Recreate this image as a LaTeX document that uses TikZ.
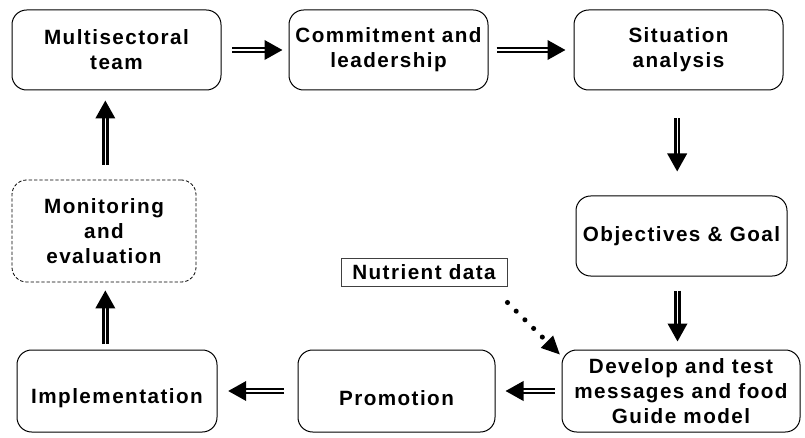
\documentclass[tikz,border=0pt]{standalone}
\usepackage{fontspec}
\setmainfont{Liberation Sans}[LetterSpace=7]
\usetikzlibrary{arrows.meta,positioning}

\tikzset{
	stagebox/.style = {draw, line width=0.75pt, rounded corners=11pt, align=center,
		font=\fontsize{15.5}{18.75}\selectfont\bfseries, inner sep=0pt},
	sunk/.style = {execute at begin node={\rule{0pt}{#1}}},
	databox/.style = {draw=black!75, line width=0.75pt, align=center,
		font=\fontsize{15.5}{18.75}\selectfont\bfseries, inner sep=0pt},
	flowarrow/.style = {draw, line width=2pt, double, double distance=0.8pt,
		-{Triangle[length=13.5pt,width=14.5pt]}},
	dotarrow/.style = {line width=3.8pt, line cap=round, dash pattern=on 0pt off 9.2pt,
		-{Triangle[length=14pt,width=12pt]}}
}

\begin{document}
\begin{tikzpicture}[x=0.75pt, y=-0.75pt]
	\useasboundingbox (0,0) rectangle (805,438);

	% top row
	\node[stagebox, sunk=19pt, minimum width=156.75pt, minimum height=60pt] (team) at (116.5,50) {Multisectoral\\team};
	\node[stagebox, sunk=18pt, minimum width=149.25pt, minimum height=60pt] (commit) at (388.5,50) {Commitment and\\leadership};
	\node[stagebox, sunk=18pt, minimum width=156.75pt, minimum height=60pt] (situation) at (678.5,50) {Situation\\analysis};

	% right column
	\node[stagebox, minimum width=158.25pt, minimum height=60pt] (objectives) at (681.5,236) {Objectives \& Goal};
	\node[stagebox, minimum width=178.5pt, minimum height=61.5pt] (develop) at (681,391) {Develop and test\\messages and food\\Guide model};

	% bottom row
	\node[stagebox, sunk=21.5pt, minimum width=147.75pt, minimum height=61.5pt] (promotion) at (396.5,391) {Promotion};
	\node[stagebox, sunk=21.5pt, minimum width=150pt, minimum height=61.5pt] (implement) at (117,391) {Implementation};

	% left column
	\node[stagebox, line width=0.6pt, dash pattern=on 2.5pt off 1.5pt, sunk=18.5pt, minimum width=138pt, minimum height=76.5pt] (monitor) at (104,231) {Monitoring\\and\\evaluation};

	\node[databox, minimum width=124.5pt, minimum height=21pt] (nutrient) at (424,272) {Nutrient data};

	% connectors
	\draw[flowarrow, shorten <=8pt, shorten >=4.5pt] (team.east) -- (commit.west);
	\draw[flowarrow, shorten <=6pt, shorten >=6pt] (commit.east) -- (situation.west);
	\draw[flowarrow, shorten <=21pt, shorten >=18pt] ([xshift=-1pt]situation.south) -- ([xshift=-1pt]situation.south |- objectives.north);
	\draw[flowarrow, shorten <=10.5pt, shorten >=6pt] ([xshift=-3pt]objectives.south) -- ([xshift=-3pt]objectives.south |- develop.north);
	\draw[flowarrow, shorten <=5pt, shorten >=7.5pt] (develop.west) -- (promotion.east);
	\draw[flowarrow, shorten <=10pt, shorten >=8pt] (promotion.west) -- (implement.east);
	\draw[flowarrow, shorten <=4pt, shorten >=6pt] ([xshift=1pt]monitor.south |- implement.north) -- ([xshift=1pt]monitor.south);
	\draw[flowarrow, shorten <=11pt, shorten >=7.5pt] ([xshift=1pt]monitor.north) -- ([xshift=1pt]monitor.north |- team.south);
	\draw[dotarrow] ([yshift=-12pt]nutrient.south east) -- ([shift={(-1pt,-4pt)}]develop.north west);
\end{tikzpicture}
\end{document}
